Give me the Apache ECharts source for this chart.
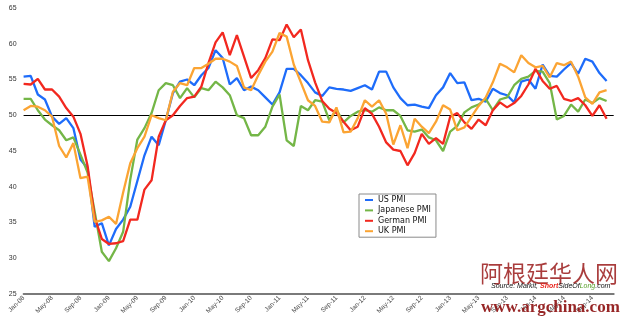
<!DOCTYPE html>
<html>
<head>
<meta charset="utf-8">
<script src="https://cdn.jsdelivr.net/npm/echarts@6/dist/echarts.min.js"></script>
<style>
html,body{margin:0;padding:0;background:#fff;}
#chart{width:625px;height:323px;}
</style>
</head>
<body>
<div id="chart"></div>
<script>
// Monthly categories Jan-08 .. Dec-14
var monthNames = ['Jan','Feb','Mar','Apr','May','Jun','Jul','Aug','Sep','Oct','Nov','Dec'];
var years = ['08','09','10','11','12','13','14'];
var categories = [];
years.forEach(function (y) { monthNames.forEach(function (m) { categories.push(m + '-' + y); }); });

var yTicks = { min: 25, max: 65, step: 5 };

var usPMI = [55.4,55.5,52.9,52.2,49.8,48.8,49.6,48.2,43.8,42.6,
  34.4,34.9,31.8,34.1,35.4,37.2,40.8,44.4,47.0,45.8,
  49.3,53.1,54.7,55.0,54.2,55.6,56.6,59.1,58.0,54.3,
  55.2,53.5,54.0,53.5,52.5,51.5,53.2,56.5,56.5,55.6,
  54.5,53.2,52.7,53.9,53.7,53.6,53.4,53.8,54.2,53.6,
  56.1,56.1,53.9,52.4,51.4,51.5,51.2,51.0,52.8,53.9,
  55.9,54.5,54.6,52.1,52.3,51.9,53.7,53.1,52.8,51.8,
  54.7,55.0,53.7,57.1,55.5,55.4,56.4,57.3,55.8,57.9,
  57.5,55.9,54.8];

var japanPMI = [52.3,52.3,50.7,49.4,48.6,47.9,46.5,46.9,44.5,42.0,
  36.5,30.9,29.6,31.4,33.7,41.0,46.6,48.2,50.3,53.5,
  54.5,54.2,52.4,53.8,52.5,53.8,53.5,54.7,53.9,52.8,
  50.0,49.6,47.2,47.2,48.4,51.2,52.9,46.5,45.7,51.3,
  50.7,52.1,51.9,49.3,50.8,49.0,49.9,50.5,50.7,50.5,
  51.1,50.7,50.7,49.9,47.9,47.7,48.0,46.9,46.5,45.0,
  47.7,48.5,50.4,51.1,51.5,52.3,50.7,52.2,52.5,54.2,
  55.1,55.4,56.2,56.1,54.5,49.4,49.9,51.5,50.5,52.2,
  51.7,52.4,52.0];

var germanPMI = [54.4,54.3,55.1,53.6,53.6,52.6,51.0,49.8,47.4,42.9,
  35.7,32.7,32.0,32.1,32.4,35.4,35.4,39.6,40.9,47.0,
  49.3,50.0,51.3,52.4,52.6,54.0,57.3,60.2,61.6,58.4,
  61.2,58.2,55.2,56.3,58.0,60.6,60.5,62.7,60.9,62.0,
  57.7,54.6,52.0,50.9,50.3,49.1,47.9,48.4,51.0,50.2,
  48.4,46.2,45.2,45.0,43.0,44.7,47.4,46.0,46.8,46.0,
  49.8,50.3,49.0,48.1,49.4,48.6,50.7,51.8,51.1,51.7,
  52.7,54.3,56.5,54.8,53.7,54.1,52.3,52.0,52.4,51.4,
  49.9,51.4,49.5];

var ukPMI = [50.7,51.3,51.2,50.7,49.8,45.7,44.1,46.1,41.2,41.4,
  35.1,35.3,35.8,34.8,39.2,43.3,45.4,47.0,50.0,49.6,
  49.3,53.3,54.5,54.2,56.6,56.6,57.2,57.9,57.9,57.5,
  56.9,53.9,53.5,55.6,57.5,58.9,61.5,61.0,57.1,54.6,
  52.1,51.3,49.1,49.0,51.1,47.6,47.7,49.6,52.1,51.2,
  52.1,50.2,45.9,48.6,45.4,49.5,48.4,47.5,49.1,51.4,
  50.8,47.9,48.3,49.8,51.3,52.5,54.6,57.2,56.7,56.0,
  58.4,57.3,56.7,56.9,55.3,57.3,57.0,57.5,55.4,52.5,
  51.6,53.2,53.5];

var seriesNames = ['US PMI', 'Japanese PMI', 'German PMI', 'UK PMI'];
var seriesColors = ['#1E6CFA', '#74B647', '#F2281F', '#FBA433'];
var seriesData = [usPMI, japanPMI, germanPMI, ukPMI];

var chart = echarts.init(document.getElementById('chart'), null, { renderer: 'canvas' });

var series = seriesData.map(function (d, k) {
  var s = {
    name: seriesNames[k],
    type: 'line',
    data: d,
    showSymbol: false,
    symbol: 'none',
    smooth: false,
    color: seriesColors[k],
    lineStyle: { width: 2.3, color: seriesColors[k] },
    z: 3 + k
  };
  if (k === 0) {
    s.markLine = {
      silent: true,
      symbol: ['none', 'none'],
      label: { show: false },
      lineStyle: { color: '#000', width: 1, type: 'solid' },
      data: [{ yAxis: 50 }],
      z: 1
    };
  }
  return s;
});

chart.setOption({
  animation: false,
  backgroundColor: '#ffffff',
  grid: { left: 23.6, right: 11.3, top: 8, bottom: 29, containLabel: false },
  xAxis: {
    type: 'category',
    data: categories,
    boundaryGap: false,
    axisLine: { show: true, lineStyle: { color: '#7a7a7a', width: 2 } },
    axisTick: { show: false },
    splitLine: { show: false },
    axisLabel: {
      interval: 3,
      rotate: 45,
      fontSize: 6.5,
      fontFamily: 'Liberation Sans',
      color: '#444',
      margin: 3
    }
  },
  yAxis: {
    type: 'value',
    min: yTicks.min,
    max: yTicks.max,
    interval: yTicks.step,
    axisLine: { show: false },
    axisTick: { show: false },
    splitLine: { show: false },
    axisLabel: { fontSize: 7, fontFamily: 'Liberation Sans', color: '#333', margin: 7 }
  },
  legend: {
    data: seriesNames,
    orient: 'vertical',
    left: 359,
    top: 194,
    icon: 'rect',
    itemWidth: 8,
    itemHeight: 2,
    itemGap: 0.4,
    padding: [1, 5, 1, 6],
    borderColor: '#8a8a8a',
    borderWidth: 1,
    backgroundColor: '#fff',
    textStyle: { fontSize: 8, fontFamily: 'DejaVu Sans', color: '#111', lineHeight: 10 }
  },
  graphic: [
    {
      type: 'text',
      left: 480,
      top: 262,
      z: 50,
      style: {
        text: '阿根廷华人网',
        font: 'normal 23px "Noto Sans CJK SC"',
        fill: '#9a1a1a',
        opacity: 0.85,
        shadowColor: 'rgba(0,0,0,0.3)',
        shadowBlur: 2,
        shadowOffsetX: 1,
        shadowOffsetY: 1
      }
    },
    {
      type: 'text',
      left: 491,
      top: 283,
      z: 60,
      style: {
        text: '{a|Source: Markit, }{r|Short}{a|SideOf}{g|Long}{a|.com}',
        rich: {
          a: { fontSize: 7, fontStyle: 'italic', fontFamily: 'Liberation Sans', fill: '#111' },
          r: { fontSize: 7, fontStyle: 'italic', fontWeight: 'bold', fontFamily: 'Liberation Sans', fill: '#e8231c' },
          g: { fontSize: 7, fontStyle: 'italic', fontFamily: 'Liberation Sans', fill: '#5aa02c' }
        }
      }
    },
    {
      type: 'text',
      left: 481,
      top: 299,
      z: 50,
      style: {
        text: 'www.argchina.com',
        font: 'bold 17px "Liberation Serif"',
        fill: '#8e1414',
        opacity: 0.92,
        shadowColor: 'rgba(0,0,0,0.35)',
        shadowBlur: 2,
        shadowOffsetX: 1,
        shadowOffsetY: 1
      }
    }
  ],
  series: series
});
</script>
</body>
</html>
